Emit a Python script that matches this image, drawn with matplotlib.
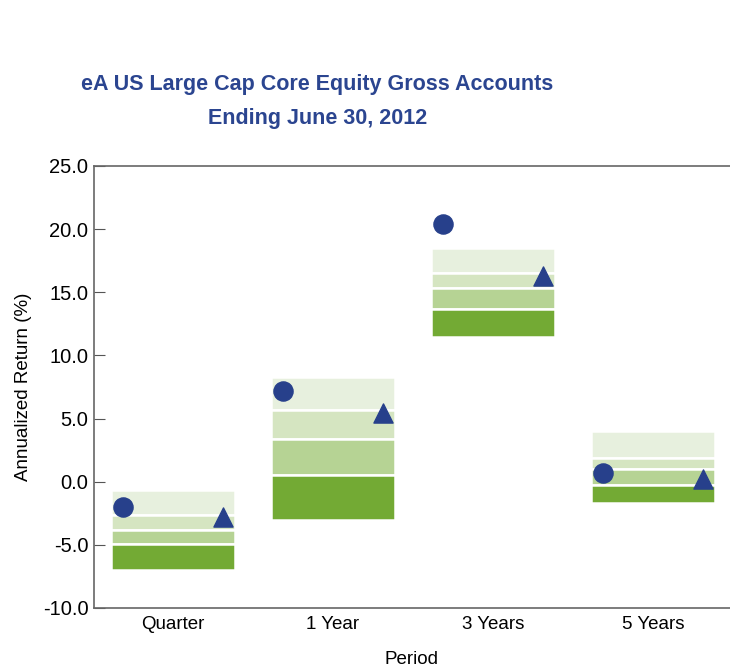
import matplotlib.pyplot as plt
import matplotlib.font_manager as fm

# percentile bands: 5th, 25th, median, 75th, 95th
periods = ["Quarter", "1 Year", "3 Years", "5 Years"]
p05 = [-0.63, 8.32, 18.5, 4.05]
p25 = [-2.6, 5.7, 16.5, 1.9]
p50 = [-3.85, 3.4, 15.3, 0.97]
p75 = [-4.97, 0.53, 13.7, -0.23]
p95 = [-7.0, -3.05, 11.45, -1.68]
circle_vals = [-2.03, 7.19, 20.43, 0.69]
triangle_vals = [-2.79, 5.43, 16.32, 0.2]

names = {f.name for f in fm.fontManager.ttflist}
font = "Liberation Sans Narrow" if "Liberation Sans Narrow" in names else "Liberation Sans"
plt.rcParams['font.family'] = [font, 'DejaVu Sans']

band_colors = ["#e7f0de", "#d5e5c1", "#b6d394", "#73aa34"]
marker_color = "#27408b"
title_color = "#2b4590"

fig = plt.figure(figsize=(7.3, 6.69), dpi=100)
ax = fig.add_axes([0.1288, 0.0912, 0.871, 0.6607])

x = list(range(len(periods)))
width = 0.78
levels = [p05, p25, p50, p75, p95]
for i in range(4):
    tops = levels[i]
    bots = levels[i + 1]
    heights = [t - b for t, b in zip(tops, bots)]
    ax.bar(x, heights, bottom=bots, width=width, color=band_colors[i],
           edgecolor="white", linewidth=1.8, zorder=2)

off = width / 2 - 0.08
ax.scatter([xi - off for xi in x], circle_vals, s=190, marker="o",
           color=marker_color, zorder=4)
ax.scatter([xi + off for xi in x], triangle_vals, s=190, marker="^",
           color=marker_color, zorder=4)

ax.set_xlim(-0.494, 3.48)
ax.set_ylim(-10, 25)
ax.set_yticks([-10, -5, 0, 5, 10, 15, 20, 25])
ax.set_yticklabels([f"{v:.1f}" for v in [-10, -5, 0, 5, 10, 15, 20, 25]])
ax.set_xticks(x)
ax.set_xticklabels(periods)
ax.tick_params(axis="y", direction="in", length=8, color="#555555",
               labelsize=14.5, pad=4)
ax.tick_params(axis="x", length=0, labelsize=13.5, pad=6)

for s in ["left", "bottom", "top"]:
    ax.spines[s].set_color("#666666")
    ax.spines[s].set_linewidth(1.2)
ax.spines["right"].set_visible(False)

ax.set_ylabel("Annualized Return (%)", fontsize=13.5, labelpad=8)
ax.set_xlabel("Period", fontsize=13.5, labelpad=13)

fig.text(0.435, 0.874, "eA US Large Cap Core Equity Gross Accounts",
         ha="center", va="center", fontsize=15.5, fontweight="bold", color=title_color)
fig.text(0.435, 0.823, "Ending June 30, 2012",
         ha="center", va="center", fontsize=15.5, fontweight="bold", color=title_color)

fig.savefig("out.png", dpi=100)
